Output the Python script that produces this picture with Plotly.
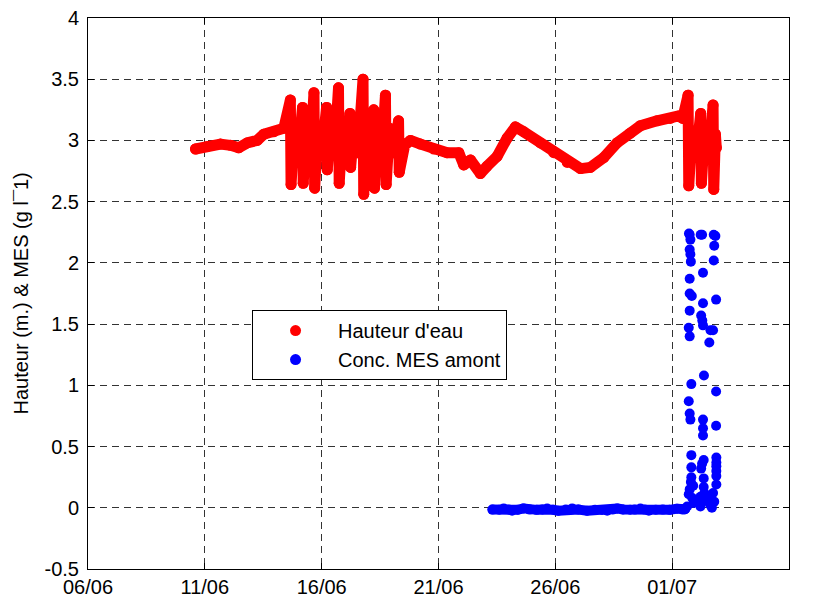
import pandas as pd
import plotly.graph_objects as go

# Time axis origin (days are counted from this date)
T0 = pd.Timestamp("2007-06-06")

# Water level (m) - day offsets and values
hauteur_jours = [
    4.60, 5.10, 5.67, 6.10, 6.45, 6.81, 7.24, 7.52, 7.95, 8.38,
    8.66, 8.69, 8.83, 9.00,
    9.18, 9.21, 9.35, 9.52,
    9.67, 9.70, 9.84, 10.01,
    10.21, 10.24, 10.38, 10.55,
    10.72, 10.75, 10.89, 11.06,
    11.21, 11.24, 11.38, 11.55,
    11.77, 11.80, 11.94, 12.11,
    12.23, 12.26, 12.40, 12.57,
    12.73, 12.76, 12.90, 13.07,
    13.29, 13.32,
    13.55, 13.80, 14.23, 14.80, 15.37, 15.87, 16.08, 16.37, 16.79, 17.08,
    17.51, 17.94, 18.29, 18.65, 19.36, 19.93, 20.51, 21.08, 21.50, 22.07,
    22.64, 23.21, 23.64, 24.35, 24.92, 25.28, 25.45,
    25.68, 25.71, 25.85, 26.02,
    26.22, 26.25, 26.39, 26.56,
    26.75, 26.78, 26.85, 26.89,
]
hauteur_vals = [
    2.93, 2.95, 2.97, 2.96, 2.94, 2.98, 3.00, 3.05, 3.07, 3.10,
    3.33, 2.64, 3.10, 2.90,
    3.27, 2.65, 3.10, 2.90,
    3.39, 2.61, 3.10, 2.90,
    3.27, 2.76, 3.10, 2.90,
    3.43, 2.65, 3.10, 2.90,
    3.22, 2.78, 3.10, 2.90,
    3.50, 2.56, 3.10, 2.90,
    3.25, 2.61, 3.10, 2.90,
    3.37, 2.64, 3.10, 2.90,
    3.16, 2.74,
    2.96, 3.00, 2.97, 2.93, 2.90, 2.90, 2.80, 2.84, 2.73, 2.79,
    2.87, 3.02, 3.11, 3.07, 2.98, 2.90, 2.82, 2.77, 2.78, 2.86,
    2.98, 3.06, 3.12, 3.16, 3.18, 3.20, 3.18,
    3.37, 2.63, 3.08, 2.86,
    3.22, 2.65, 3.08, 2.86,
    3.29, 2.60, 3.05, 2.94,
]

# Suspended matter concentration upstream (g/l) - low steady period
mes_base_jours = [
    17.31, 17.60, 17.79, 18.00, 18.15, 18.40, 18.64, 18.90, 19.20, 19.45,
    19.65, 19.90, 20.13, 20.45, 20.72, 21.00, 21.36, 21.70, 22.00, 22.22,
    22.45, 22.65, 22.90, 23.20, 23.40, 23.64, 23.82, 24.00, 24.30, 24.60,
    24.90, 25.21, 25.45, 25.55,
]
mes_base_vals = [
    -0.015, -0.016, -0.005, -0.014, -0.024, -0.016, -0.005, -0.015, -0.017, -0.014,
    -0.006, -0.016, -0.024, -0.015, -0.005, -0.015, -0.024, -0.016, -0.018, -0.024,
    -0.015, -0.005, -0.014, -0.016, -0.015, -0.006, -0.015, -0.024, -0.016, -0.015,
    -0.017, -0.007, -0.015, -0.012,
]

# Suspended matter concentration upstream (g/l) - scattered samples after 01/07
mes_pic_jours = [
    25.72, 25.75, 25.78, 25.75, 25.78, 25.80, 25.75, 25.75, 25.84, 25.75,
    25.71, 25.75, 25.82, 25.71, 25.75, 25.78, 25.82, 25.82, 25.82, 25.80,
    25.75, 25.71, 25.92, 25.64, 25.86, 25.90,
    26.22, 26.28, 26.32, 26.32, 26.24, 26.29, 26.32, 26.36, 26.32, 26.32,
    26.32, 26.35, 26.28, 26.24, 26.35, 26.35, 26.21, 26.21, 26.30, 26.38,
    26.78, 26.85, 26.80, 26.78, 26.88, 26.64, 26.75, 26.59, 26.88, 26.88,
    26.89, 26.89, 26.89, 26.89, 26.89, 26.89, 26.64, 26.64, 26.70, 26.55,
    26.75, 26.80,
]
mes_pic_vals = [
    2.24, 2.23, 2.19, 2.11, 2.07, 2.01, 1.87, 1.75, 1.73, 1.61,
    1.47, 1.40, 1.01, 0.87, 0.77, 0.72, 0.43, 0.33, 0.25, 0.21,
    0.15, 0.11, 0.04, 0.01, 0.08, 0.18,
    2.23, 2.23, 1.92, 1.67, 1.57, 1.53, 1.49, 1.08, 0.72, 0.65,
    0.59, 0.39, 0.36, 0.32, 0.24, 0.17, 0.09, 0.01, 0.05, 0.12,
    2.23, 2.22, 2.14, 2.02, 1.70, 1.45, 1.45, 1.35, 0.95, 0.67,
    0.41, 0.37, 0.34, 0.30, 0.26, 0.19, 0.09, 0.02, 0.00, 0.06,
    0.12, 0.05,
]

# Axis ticks
x_ticks = ["2007-06-06", "2007-06-11", "2007-06-16", "2007-06-21",
           "2007-06-26", "2007-07-01", "2007-07-06"]
x_ticktext = ["06/06", "11/06", "16/06", "21/06", "26/06", "01/07", "06/07"]
y_ticks = [-0.5, 0, 0.5, 1, 1.5, 2, 2.5, 3, 3.5, 4]
y_ticktext = ["-0.5", "0", "0.5", "1", "1.5", "2", "2.5", "3", "3.5", "4"]


def to_dates(days):
    return list(T0 + pd.to_timedelta(days, unit="D"))


ROUGE = "#ff0000"
BLEU = "#0000ff"
DOT = 11
FONT = "Arial, Liberation Sans, Helvetica, sans-serif"

fig = go.Figure()

fig.add_trace(go.Scatter(
    x=to_dates(hauteur_jours), y=hauteur_vals, mode="lines+markers",
    line=dict(color=ROUGE, width=DOT), marker=dict(color=ROUGE, size=DOT),
    showlegend=False, hoverinfo="skip",
))
fig.add_trace(go.Scatter(
    x=to_dates(mes_base_jours), y=mes_base_vals, mode="lines+markers",
    line=dict(color=BLEU, width=DOT - 1), marker=dict(color=BLEU, size=DOT - 1),
    showlegend=False, hoverinfo="skip",
))
fig.add_trace(go.Scatter(
    x=to_dates(mes_pic_jours), y=mes_pic_vals, mode="markers",
    marker=dict(color=BLEU, size=DOT - 1),
    showlegend=False, hoverinfo="skip",
))

# Legend entries (dot symbols only)
fig.add_trace(go.Scatter(
    x=[None], y=[None], mode="markers", name="Hauteur d'eau",
    marker=dict(color=ROUGE, size=DOT), legendgroup="h",
))
fig.add_trace(go.Scatter(
    x=[None], y=[None], mode="markers", name="Conc. MES amont",
    marker=dict(color=BLEU, size=DOT), legendgroup="m",
))

axis_common = dict(
    showline=True, linecolor="black", linewidth=1, mirror="ticks",
    ticks="inside", ticklen=6, tickcolor="black",
    showgrid=True, gridcolor="#333333", gridwidth=1, griddash="7px,5px",
    zeroline=False, automargin=False,
    tickfont=dict(family=FONT, size=20, color="black"),
)

fig.update_xaxes(
    type="date", range=["2007-06-06", "2007-07-06"],
    tickvals=x_ticks, ticktext=x_ticktext, **axis_common,
)
fig.update_yaxes(
    range=[-0.5, 4], tickvals=y_ticks, ticktext=y_ticktext,
    ticklabelstandoff=4, **axis_common,
)

fig.add_annotation(
    text="Hauteur (m.) & MES (g l¯1)", textangle=-90,
    xref="paper", yref="paper", x=-0.097, y=0.5,
    xanchor="center", yanchor="middle", showarrow=False,
    font=dict(family=FONT, size=20, color="black"),
)

fig.update_layout(
    width=814, height=599, autosize=False,
    margin=dict(l=88, r=25, t=18, b=30),
    paper_bgcolor="white", plot_bgcolor="white",
    legend=dict(
        x=0.234, y=0.470, xanchor="left", yanchor="top",
        bgcolor="white", bordercolor="black", borderwidth=1,
        font=dict(family=FONT, size=20, color="black"),
        itemwidth=75, tracegroupgap=0, traceorder="grouped",
    ),
    showlegend=True,
)

# Round joins/caps on the thick data lines so they read as chains of dots
round_joins = """
var s = document.createElement('style');
s.textContent = '.scatterlayer .js-line { stroke-linejoin: round !important; stroke-linecap: round !important; }';
document.head.appendChild(s);
"""

fig.write_html("out.html", post_script=round_joins)
